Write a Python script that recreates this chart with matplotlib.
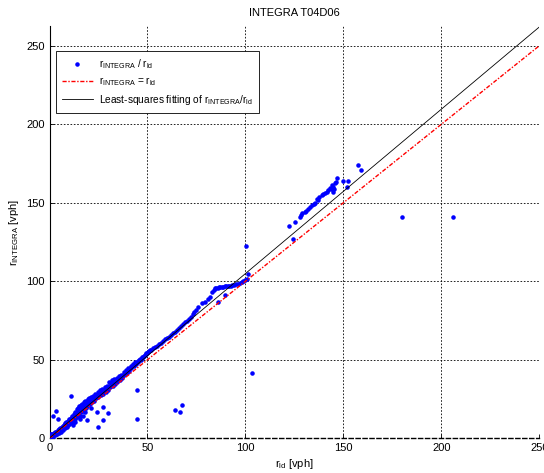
import numpy as np
import matplotlib
matplotlib.use("Agg")
import matplotlib.pyplot as plt

plt.rcParams["font.family"] = ["Liberation Sans", "DejaVu Sans"]
plt.rcParams["mathtext.fontset"] = "custom"
plt.rcParams["mathtext.rm"] = "Liberation Sans"

# r_ld / r_INTEGRA pairs [vph]
low_x = [0.3, 0.5, 0.8, 1, 1.2, 1.5, 1.8, 2, 2.2, 2.5, 2.8, 3, 3.2, 3.5, 3.7, 4, 4.2,
         4.5, 4.8, 5, 5.2, 5.5, 5.8, 6, 6.2, 6.5, 6.8, 7, 7.2, 7.5, 7.8, 8, 8.2, 8.5,
         8.8, 9, 9.2, 9.5, 9.8, 10, 10.2, 10.5, 10.8, 11, 11.2, 11.5, 11.8, 12]
low_y = [3, 0.2, 2.5, 0.5, 3, 1.8, 2.2, 1, 3.5, 2.6, 1.9, 3.8, 2.8, 4.2, 3.1, 2.5, 5,
         4, 3.3, 5.8, 4.6, 6.5, 5.2, 3.8, 7, 6, 7.8, 5.5, 8.5, 7.2, 6.3, 9, 8, 10.2,
         7, 9.5, 11, 8.4, 10.5, 12, 9.3, 11.4, 13, 10, 12.3, 14.2, 11.2, 13.5]

mid_x = [12.3, 12.5, 12.8, 13, 13.2, 13.5, 13.8, 14, 14.2, 14.5, 14.8, 15, 15.2, 15.5,
         15.8, 16, 16.2, 16.5, 16.8, 17, 17.2, 17.5, 17.8, 18, 18.2, 18.5, 18.8, 19,
         19.2, 19.5, 19.8, 20, 20.3, 20.6, 21, 21.3, 21.6, 22, 22.3, 22.6, 23, 23.4,
         23.8, 24.2, 24.6, 25, 25.4, 25.8, 26.2, 26.6, 27, 27.4, 27.8, 28.2, 28.6, 29,
         29.4, 29.8, 13, 15.5, 18, 21, 17]
mid_y = [15.5, 10.5, 14, 17, 12.5, 15.8, 18.5, 13.5, 16.5, 19.5, 15, 17.8, 20.5, 14.2,
         18.5, 21, 16.5, 19.5, 22, 17.5, 20.5, 23, 18.5, 21.5, 24, 19.5, 22.5, 20.5,
         23.5, 25, 21, 23, 25.5, 22, 24, 26.5, 23, 25, 27, 24, 26.5, 28.5,
         25.5, 27.5, 29.5, 26.5, 28.5, 30.5, 27.5, 29.5, 31.5, 28.5, 30.5, 32.5, 29.5, 31.5,
         33, 30.5, 10.5, 12.5, 16.5, 19.5, 14]

upper_x = [30.2, 30.6, 31, 31.4, 31.8, 32.2, 32.6, 33, 33.4, 33.8, 34.2, 34.6, 35, 35.4,
           35.8, 36.2, 36.6, 37, 37.4, 37.8, 38.2, 38.6, 39, 39.4, 39.8, 40.2, 40.6, 41,
           41.4, 41.8, 42.2, 42.6, 43, 43.4, 43.8, 44.2, 44.6, 45, 45.4, 45.8, 46.2, 46.6,
           47, 47.4, 47.8, 48.2, 48.6]
upper_y = [33.5, 36, 32.5, 35, 37, 33.5, 35.5, 37.5, 34.5, 36.5, 38.5, 36, 37.5, 39.5,
           37, 38.5, 40.5, 38.5, 40, 42, 40, 41.5, 43.5, 41.5, 43, 44.5, 43, 44.5,
           46, 44.5, 46, 47.5, 46, 47.5, 48.5, 47.5, 48.5, 49.5, 48.5, 50, 50.5, 50,
           51, 51.5, 52, 52.5, 53]

chain_x = [49, 49.5, 50, 50.5, 51, 51.5, 52, 53, 54, 55, 56, 57, 58, 59, 60, 61, 62, 63,
           64, 65, 66, 67, 68, 69, 70, 71, 72, 73, 74, 75, 76, 77.6, 79.3, 81, 82, 83,
           83.8, 84.4, 85, 85.8, 86.5, 87.2, 88, 88.8, 89.5, 90.2, 91, 91.8, 92.5, 93.2,
           94, 95, 96, 97, 98, 99, 100, 100.6, 101.4, 86, 89.5]
chain_y = [53.5, 54, 54.5, 55, 55.3, 56, 56.5, 57.5, 58.3, 59, 60, 61, 61.8, 63, 64, 64.8,
           66, 67, 68, 69, 70, 71.5, 72.5, 74, 75, 76, 77.5, 79, 80.5, 81.7, 83.5, 86, 87,
           89, 90.2, 93, 94.5, 95.5, 95.8, 96, 96.2, 96.4, 96.5, 96.6, 96.8, 96.9, 97,
           97.2, 97.3, 97.5, 97.6, 98, 98.5, 99, 99.5, 100, 101, 101.3, 104.5, 86.5, 91.3]

high_x = [122.3, 125.3, 127.8, 128.5, 129, 130.4, 131, 132, 133, 134, 135, 135.5, 136.3,
          137, 137.5, 138.9, 139.5, 140.5, 141.4, 142, 143.1, 143.5, 144, 144.5, 144.8,
          145, 145.7, 146, 146.8, 149.9, 151.6, 152.4, 157.6, 158.8]
high_y = [135.2, 138, 141.1, 142, 143.5, 144.3, 145, 145.8, 147, 148.5, 149, 149.7, 152.2,
          152, 153.5, 155, 155.5, 156, 157.1, 158, 159.2, 158.5, 161, 160.3, 157.1,
          159, 162.4, 163.5, 165.6, 163.9, 159.9, 163.9, 174.1, 170.9]

outlier_x = [10.8, 3.2, 4.5, 1.9, 24.9, 27.4, 29.7, 24.4, 27.4, 19, 12.1, 7.9, 44.5,
             44.5, 64, 66.6, 67.4, 103.3, 100.1, 124.1, 179.7, 206]
outlier_y = [26.9, 17.4, 12.1, 14.2, 7, 11.7, 16.3, 16.9, 20.1, 11.7, 8.5, 9.6, 30.8,
             12, 18, 17, 21.2, 41.6, 122.5, 126.7, 141.1, 141.1]

# least-squares line as it appears in the picture
fit_slope = 1.047
fit_intercept = 0.2

r_ld = np.array(low_x + mid_x + upper_x + chain_x + high_x + outlier_x)
r_integra = np.array(low_y + mid_y + upper_y + chain_y + high_y + outlier_y)

fig = plt.figure(figsize=(5.44, 4.73), dpi=100)
ax = fig.add_axes([0.091, 0.0734, 0.9004, 0.8717])

line_x = np.array([0, 250])

ax.plot(r_ld, r_integra, ".", color=(0, 0, 1), ms=4.5, zorder=3,
        label=r"$\mathregular{r_{INTEGRA}}$ / $\mathregular{r_{ld}}$")
ax.plot(line_x, line_x, color=(1, 0, 0), lw=1.0, dashes=(3, 1.2, 1, 1.2), zorder=4,
        label=r"$\mathregular{r_{INTEGRA}}$ = $\mathregular{r_{ld}}$")
ax.plot(line_x, fit_slope * line_x + fit_intercept, color="black", lw=0.6, zorder=4,
        label=r"Least-squares fitting of $\mathregular{r_{INTEGRA}/r_{ld}}$")

ax.set_xlim(0, 250)
ax.set_ylim(0, 262.6)
ax.set_xticks([0, 50, 100, 150, 200, 250])
ax.set_yticks([0, 50, 100, 150, 200, 250])
ax.grid(True, color="black", linestyle=(0, (2, 2)), linewidth=0.6)
ax.set_axisbelow(True)

ax.spines["top"].set_visible(False)
ax.spines["right"].set_visible(False)
ax.spines["left"].set_linewidth(0.8)
ax.spines["bottom"].set_linewidth(1.0)
ax.spines["bottom"].set_linestyle((0, (3, 2)))
ax.tick_params(direction="in", length=3, labelsize=8, width=0.6)

ax.set_title("INTEGRA T04D06", fontsize=8, pad=7)
ax.set_xlabel(r"$\mathregular{r_{ld}}$ [vph]", fontsize=8, labelpad=3)
ax.set_ylabel(r"$\mathregular{r_{INTEGRA}}$ [vph]", fontsize=8, labelpad=4)

leg = ax.legend(loc="upper left", bbox_to_anchor=(0.0133, 0.939), fontsize=7.3,
                fancybox=False, edgecolor="black", framealpha=1, borderaxespad=0,
                handlelength=3.0, handletextpad=0.6, labelspacing=0.45, borderpad=0.6,
                markerscale=1.0)
leg.get_frame().set_linewidth(0.6)

fig.savefig("out.png", dpi=100)
